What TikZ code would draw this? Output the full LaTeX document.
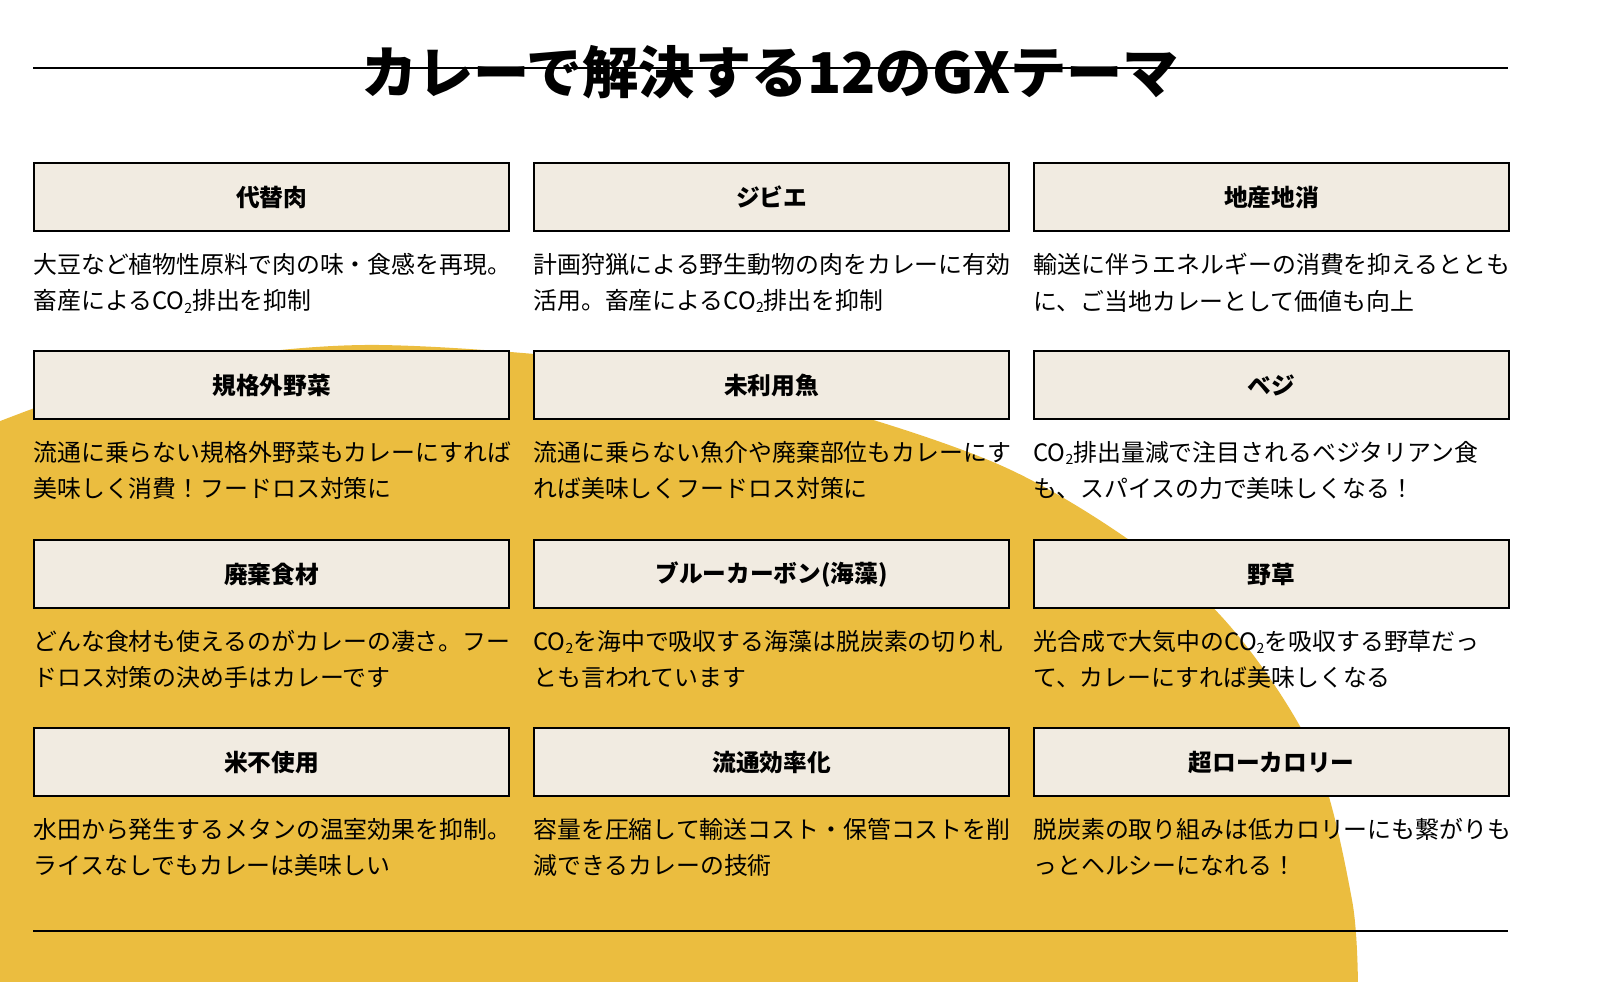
\documentclass[tikz,border=0pt]{standalone}
\usepackage{fontspec}
\setmainfont{Noto Sans CJK JP}
\usetikzlibrary{positioning}
\definecolor{curry}{HTML}{EBBD3F}
\definecolor{boxbg}{HTML}{F1EBE1}
\newcommand{\cotwo}{CO\raisebox{-0.25ex}{\fontsize{8}{8}\selectfont 2}}
\tikzset{
  theme/.style={draw, line width=1.3pt, fill=boxbg, minimum width=9.5cm, minimum height=1.36cm, font=\fontsize{13.5}{16}\selectfont\bfseries},
  desc/.style={text width=9.8cm, align=left, inner sep=0pt, font=\fontsize{13.6}{20.5}\selectfont}
}
% one theme: name, position of box top-left, title, text
\newcommand{\gxtheme}[5]{%
  \node[theme, anchor=north west] (#1) at (#2) {#3};
  \node[desc, anchor=north west] (#1d) at ([yshift=-0.42cm]#1.south west) {#4\\#5};
}
\begin{document}
\begin{tikzpicture}[x=0.02cm, y=-0.02cm]
  \useasboundingbox (0,0) rectangle (1598,981);

  \begin{scope}
    \clip (0,0) rectangle (1598,981);
    \fill[curry] (0,1000) -- (-10,425) -- plot[smooth] coordinates {(-10,425) (160,368) (380,345) (700,375) (1000,465) (1200,595) (1310,745) (1352,900) (1358,1000)} -- cycle;
  \end{scope}

  \coordinate (tl) at (33,68);
  \coordinate (tr) at (1508,68);
  \coordinate (bl) at (33,931);
  \coordinate (br) at (1508,931);
  \draw[line width=1.3pt] (tl) -- (tr);
  \draw[line width=1.3pt] (bl) -- (br);
  \node[font=\fontsize{32}{36}\selectfont\bfseries] (title) at (770,72) {カレーで解決する12のGXテーマ};

  \gxtheme{meat}{33,162}{代替肉}{大豆など植物性原料で肉の味・食感を再現。}{畜産による\cotwo 排出を抑制}
  \gxtheme{gibier}{533,162}{ジビエ}{計画狩猟による野生動物の肉をカレーに有効}{活用。畜産による\cotwo 排出を抑制}
  \gxtheme{local}{1033,162}{地産地消}{輸送に伴うエネルギーの消費を抑えるととも}{に、ご当地カレーとして価値も向上}

  \gxtheme{veg}{33,350}{規格外野菜}{流通に乗らない規格外野菜もカレーにすれば}{美味しく消費！フードロス対策に}
  \gxtheme{fish}{533,350}{未利用魚}{流通に乗らない魚介や廃棄部位もカレーにす}{れば美味しくフードロス対策に}
  \gxtheme{vege}{1033,350}{ベジ}{\cotwo 排出量減で注目されるベジタリアン食}{も、スパイスの力で美味しくなる！}

  \gxtheme{waste}{33,539}{廃棄食材}{どんな食材も使えるのがカレーの凄さ。フー}{ドロス対策の決め手はカレーです}
  \gxtheme{blue}{533,539}{ブルーカーボン(海藻)}{\cotwo を海中で吸収する海藻は脱炭素の切り札}{とも言われています}
  \gxtheme{weed}{1033,539}{野草}{光合成で大気中の\cotwo を吸収する野草だっ}{て、カレーにすれば美味しくなる}

  \gxtheme{rice}{33,727}{米不使用}{水田から発生するメタンの温室効果を抑制。}{ライスなしでもカレーは美味しい}
  \gxtheme{dist}{533,727}{流通効率化}{容量を圧縮して輸送コスト・保管コストを削}{減できるカレーの技術}
  \gxtheme{cal}{1033,727}{超ローカロリー}{脱炭素の取り組みは低カロリーにも繋がりも}{っとヘルシーになれる！}
\end{tikzpicture}
\end{document}
